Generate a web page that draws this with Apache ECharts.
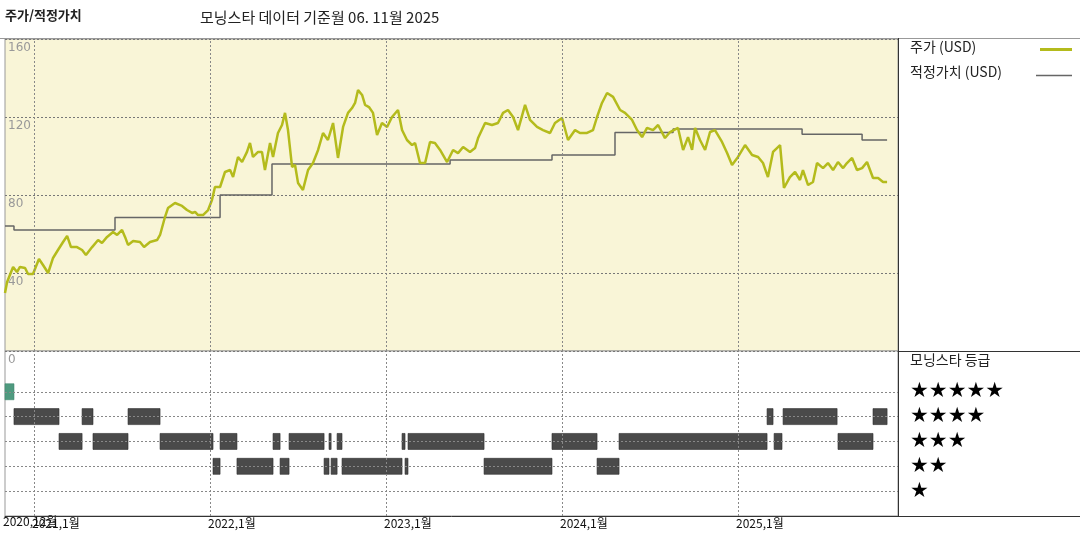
<!DOCTYPE html>
<html>
<head>
<meta charset="utf-8">
<script src="https://cdn.jsdelivr.net/npm/echarts@6/dist/echarts.min.js"></script>
<style>
  html, body { margin: 0; padding: 0; background: #fff; }
  #chart { width: 1080px; height: 540px; }
</style>
</head>
<body>
<div id="chart"></div>
<script>
// time in decimal years
const priceYears = [2020.835,2020.847,2020.881,2020.903,2020.920,2020.949,2020.966,2020.994,2021.028,2021.051,2021.080,2021.108,2021.136,2021.165,2021.188,2021.210,2021.244,2021.273,2021.295,2021.330,2021.364,2021.386,2021.415,2021.449,2021.472,2021.500,2021.517,2021.534,2021.563,2021.602,2021.625,2021.659,2021.699,2021.716,2021.744,2021.761,2021.801,2021.841,2021.869,2021.898,2021.915,2021.932,2021.960,2021.989,2022.011,2022.028,
  2022.057,2022.085,2022.114,2022.131,2022.159,2022.182,2022.210,2022.227,2022.244,2022.273,2022.295,2022.312,2022.341,2022.358,2022.386,2022.409,2022.426,2022.443,2022.466,2022.483,2022.500,2022.528,2022.557,2022.585,2022.614,2022.642,2022.670,2022.699,2022.727,2022.756,2022.784,2022.807,2022.824,2022.841,2022.864,2022.881,2022.903,2022.926,2022.949,2022.977,2023.006,2023.034,2023.068,2023.091,2023.119,2023.148,2023.165,2023.193,2023.222,2023.250,2023.278,
  2023.307,2023.347,2023.381,2023.409,2023.438,2023.477,2023.506,2023.523,2023.563,2023.602,2023.636,2023.665,2023.693,2023.722,2023.750,2023.790,2023.818,2023.858,2023.892,2023.932,2023.960,2024.000,2024.034,2024.074,2024.102,2024.142,2024.176,2024.199,2024.227,2024.256,2024.290,2024.330,2024.358,2024.398,2024.426,2024.455,2024.483,2024.517,2024.546,
  2024.585,2024.614,2024.659,2024.688,2024.716,2024.739,2024.756,2024.784,2024.813,2024.841,2024.869,2024.909,2024.938,2024.966,2025.000,2025.040,2025.080,2025.114,2025.142,2025.170,2025.199,2025.239,2025.261,2025.295,2025.324,2025.352,2025.369,2025.398,2025.426,2025.449,2025.483,2025.511,2025.540,2025.568,2025.597,2025.619,2025.648,2025.676,2025.705,2025.733,2025.767,2025.796,2025.824,2025.847];
const priceValues = [29.7,35.4,43.1,40.5,43.1,42.6,39.5,39.5,47.2,44.1,40,47.7,51.8,55.9,59,53.3,53.3,51.8,49.2,53.3,56.9,55.4,58.5,61,59.5,62.1,58.5,54.4,56.4,55.9,53.3,55.9,56.9,59.5,68.7,73.3,75.9,74.4,72.3,70.8,71.3,69.7,69.7,72.3,77.4,84.1,
  84.1,91.8,92.8,89.2,99.5,96.9,102.1,106.7,99.5,102.1,102.1,92.8,106.7,99.5,111.8,115.9,122.1,113.3,94.4,95.4,86.2,82.6,92.8,96.4,103.1,111.8,108.2,116.9,99,114.9,122.1,124.6,127.2,133.8,131.3,126.2,125.1,122.1,110.8,116.9,114.9,120,123.6,113.3,108.2,105.6,106.7,96.4,96.4,107.2,106.7,
  103.1,96.9,103.1,101.5,104.6,102.1,104.1,109.2,116.9,115.9,116.9,122.1,123.6,120,113.3,126.2,118.5,114.9,113.3,111.8,116.9,119.5,108.2,113.3,111.8,111.8,113.3,120,127.2,132.3,130.3,123.6,122.1,118.5,113.3,109.7,114.4,113.3,115.9,
  109.2,112.3,114.4,103.1,109.7,103.1,114.4,108.2,103.1,112.3,113.3,107.2,101.5,95.4,99.5,105.6,100.5,99.5,96.4,89.2,102.1,105.6,83.6,89.2,91.8,87.7,92.8,85.1,86.7,96.4,93.8,96.4,92.8,96.9,93.8,96.4,99,92.8,93.8,96.9,88.7,88.7,86.7,86.7];

const fairYears = [2020.835,2020.886,2021.460,2022.057,2022.352,2023.364,2023.943,2024.301,2024.631,2025.364,2025.705,2025.847];
const fairValues = [64.1,62.1,68.4,80,95.9,98,100.5,112,113.8,111.1,108.2,108.2];

// rating periods: start, end, stars
const ratingStart = [2020.835,2020.886,2021.142,2021.273,2021.335,2021.534,2021.716,2022.017,2022.057,2022.153,2022.358,2022.398,2022.449,2022.648,2022.676,2022.688,2022.722,2022.750,2023.091,2023.108,2023.125,2023.557,2023.943,2024.199,2024.324,2025.165,2025.205,2025.256,2025.568,2025.767];
const ratingEnd   = [2020.886,2021.142,2021.273,2021.335,2021.534,2021.716,2022.017,2022.057,2022.153,2022.358,2022.398,2022.449,2022.648,2022.676,2022.688,2022.722,2022.750,2023.091,2023.108,2023.125,2023.557,2023.943,2024.199,2024.324,2025.165,2025.199,2025.250,2025.563,2025.767,2025.847];
const ratingStars = [5,4,3,4,3,4,3,2,3,2,3,2,3,2,3,2,3,2,3,2,3,2,3,2,3,4,3,4,3,4];

const yearTicks = [2021,2022,2023,2024,2025];
const yearLabels = ['2021,1월','2022,1월','2023,1월','2024,1월','2025,1월'];
const firstLabel = '2020,12월';

const X_MIN = 2020.835, X_MAX = 2025.909;
const FONT = '"Noto Sans CJK KR", "DejaVu Sans", sans-serif';
const OLIVE = '#b4bb1c';

const ec = echarts.init(document.getElementById('chart'));

const ratingData = ratingStart.map((s, i) => [s, ratingEnd[i], ratingStars[i]]);

const vLines = yearTicks.map(v => ({ xAxis: v }));
const bottomVLines = yearTicks.map((v, i) => ({
  xAxis: v,
  label: { show: true, position: 'start', formatter: yearLabels[i], align: 'left', offset: [-2, -4] }
}));

const option = {
  animation: false,
  textStyle: { fontFamily: FONT },
  grid: [
    { left: 5, right: 182, top: 39, height: 312, show: true, backgroundColor: '#f9f5d7', borderColor: '#999', borderWidth: 1 },
    { left: 5, right: 182, top: 351, height: 165, show: true, backgroundColor: '#fff', borderColor: '#999', borderWidth: 1 }
  ],
  xAxis: [
    { type: 'value', gridIndex: 0, min: X_MIN, max: X_MAX, axisLabel: { show: false }, axisTick: { show: false }, axisLine: { show: false }, splitLine: { show: false } },
    { type: 'value', gridIndex: 1, min: X_MIN, max: X_MAX, axisLabel: { show: false }, axisTick: { show: false }, axisLine: { show: true, lineStyle: { color: '#333' } }, splitLine: { show: false } }
  ],
  yAxis: [
    { type: 'value', gridIndex: 0, min: 0, max: 160, interval: 40,
      axisLine: { show: false }, axisTick: { show: false },
      axisLabel: { inside: true, verticalAlign: 'top', margin: 3, color: '#999', fontSize: 12, fontFamily: '"DejaVu Sans", sans-serif', padding: [3, 0, 0, 0] },
      splitLine: { show: true, lineStyle: { color: '#777', type: [2, 2], width: 1 } } },
    { type: 'value', gridIndex: 1, min: 0, max: 6.64,
      axisLine: { show: false }, axisTick: { show: false }, axisLabel: { show: false }, splitLine: { show: false } }
  ],
  series: [
    {
      name: '적정가치 (USD)', type: 'line', xAxisIndex: 0, yAxisIndex: 0, step: 'end',
      data: fairYears.map((x, i) => [x, fairValues[i]]),
      symbol: 'none', lineStyle: { color: '#666', width: 1.5 }, z: 3,
      markLine: { silent: true, symbol: 'none', label: { show: false },
        lineStyle: { color: '#888', type: [2, 2], width: 1 }, data: vLines }
    },
    {
      name: '주가 (USD)', type: 'line', xAxisIndex: 0, yAxisIndex: 0,
      data: priceYears.map((x, i) => [x, priceValues[i]]),
      symbol: 'none', lineStyle: { color: OLIVE, width: 2.5 }, z: 4
    },
    {
      name: '모닝스타 등급', type: 'custom', xAxisIndex: 1, yAxisIndex: 1,
      data: ratingData,
      encode: { x: [0, 1], y: 2 },
      renderItem: function (params, api) {
        const p0 = api.coord([api.value(0), api.value(2)]);
        const p1 = api.coord([api.value(1), api.value(2)]);
        const five = api.value(2) === 5;
        return {
          type: 'rect',
          shape: { x: p0[0], y: p0[1] - 8, width: Math.max(p1[0] - p0[0], 1.5), height: 16 },
          style: { fill: five ? '#4f9a7f' : '#4a4a4a', stroke: five ? '#3f8a6f' : '#2e2e2e', lineWidth: 0.6 }
        };
      },
      z: 4,
      markLine: { silent: true, symbol: 'none',
        label: { show: false, color: '#111', fontSize: 12, fontFamily: FONT },
        lineStyle: { color: '#888', type: [2, 2], width: 1 },
        data: [1, 2, 3, 4, 5].map(v => ({ yAxis: v, label: { show: false } })).concat(bottomVLines) }
    }
  ],
  graphic: [
    { type: 'text', left: 5, top: 9, style: { text: '주가/적정가치', font: 'bold 13px ' + FONT, fill: '#222' } },
    { type: 'text', left: 200, top: 10, style: { text: '모닝스타 데이터 기준월 06. 11월 2025', font: '15px ' + FONT, fill: '#222' } },
    { type: 'text', left: 3, top: 515, style: { text: firstLabel, font: '12px ' + FONT, fill: '#111' } },
    { type: 'line', shape: { x1: 0, y1: 38.5, x2: 1080, y2: 38.5 }, style: { stroke: '#999', lineWidth: 1 } },
    { type: 'line', shape: { x1: 898.5, y1: 38, x2: 898.5, y2: 516 }, style: { stroke: '#333', lineWidth: 1 } },
    { type: 'line', shape: { x1: 898, y1: 351.5, x2: 1080, y2: 351.5 }, style: { stroke: '#333', lineWidth: 1 } },
    { type: 'line', shape: { x1: 898, y1: 516.5, x2: 1080, y2: 516.5 }, style: { stroke: '#333', lineWidth: 1 } },
    { type: 'text', left: 910, top: 40, style: { text: '주가 (USD)', font: '14px ' + FONT, fill: '#222' } },
    { type: 'line', shape: { x1: 1040, y1: 49.5, x2: 1072, y2: 49.5 }, style: { stroke: OLIVE, lineWidth: 3 } },
    { type: 'text', left: 910, top: 65, style: { text: '적정가치 (USD)', font: '14px ' + FONT, fill: '#222' } },
    { type: 'line', shape: { x1: 1036, y1: 75.5, x2: 1072, y2: 75.5 }, style: { stroke: '#666', lineWidth: 1.5 } },
    { type: 'text', left: 910, top: 353, style: { text: '모닝스타 등급', font: '14px ' + FONT, fill: '#222' } },
    { type: 'text', left: 910, top: 381, style: { text: '★★★★★', font: '21px "DejaVu Sans"', fill: '#000' } },
    { type: 'text', left: 910, top: 406, style: { text: '★★★★', font: '21px "DejaVu Sans"', fill: '#000' } },
    { type: 'text', left: 910, top: 431, style: { text: '★★★', font: '21px "DejaVu Sans"', fill: '#000' } },
    { type: 'text', left: 910, top: 456, style: { text: '★★', font: '21px "DejaVu Sans"', fill: '#000' } },
    { type: 'text', left: 910, top: 481, style: { text: '★', font: '21px "DejaVu Sans"', fill: '#000' } }
  ]
};

ec.setOption(option);
</script>
</body>
</html>
